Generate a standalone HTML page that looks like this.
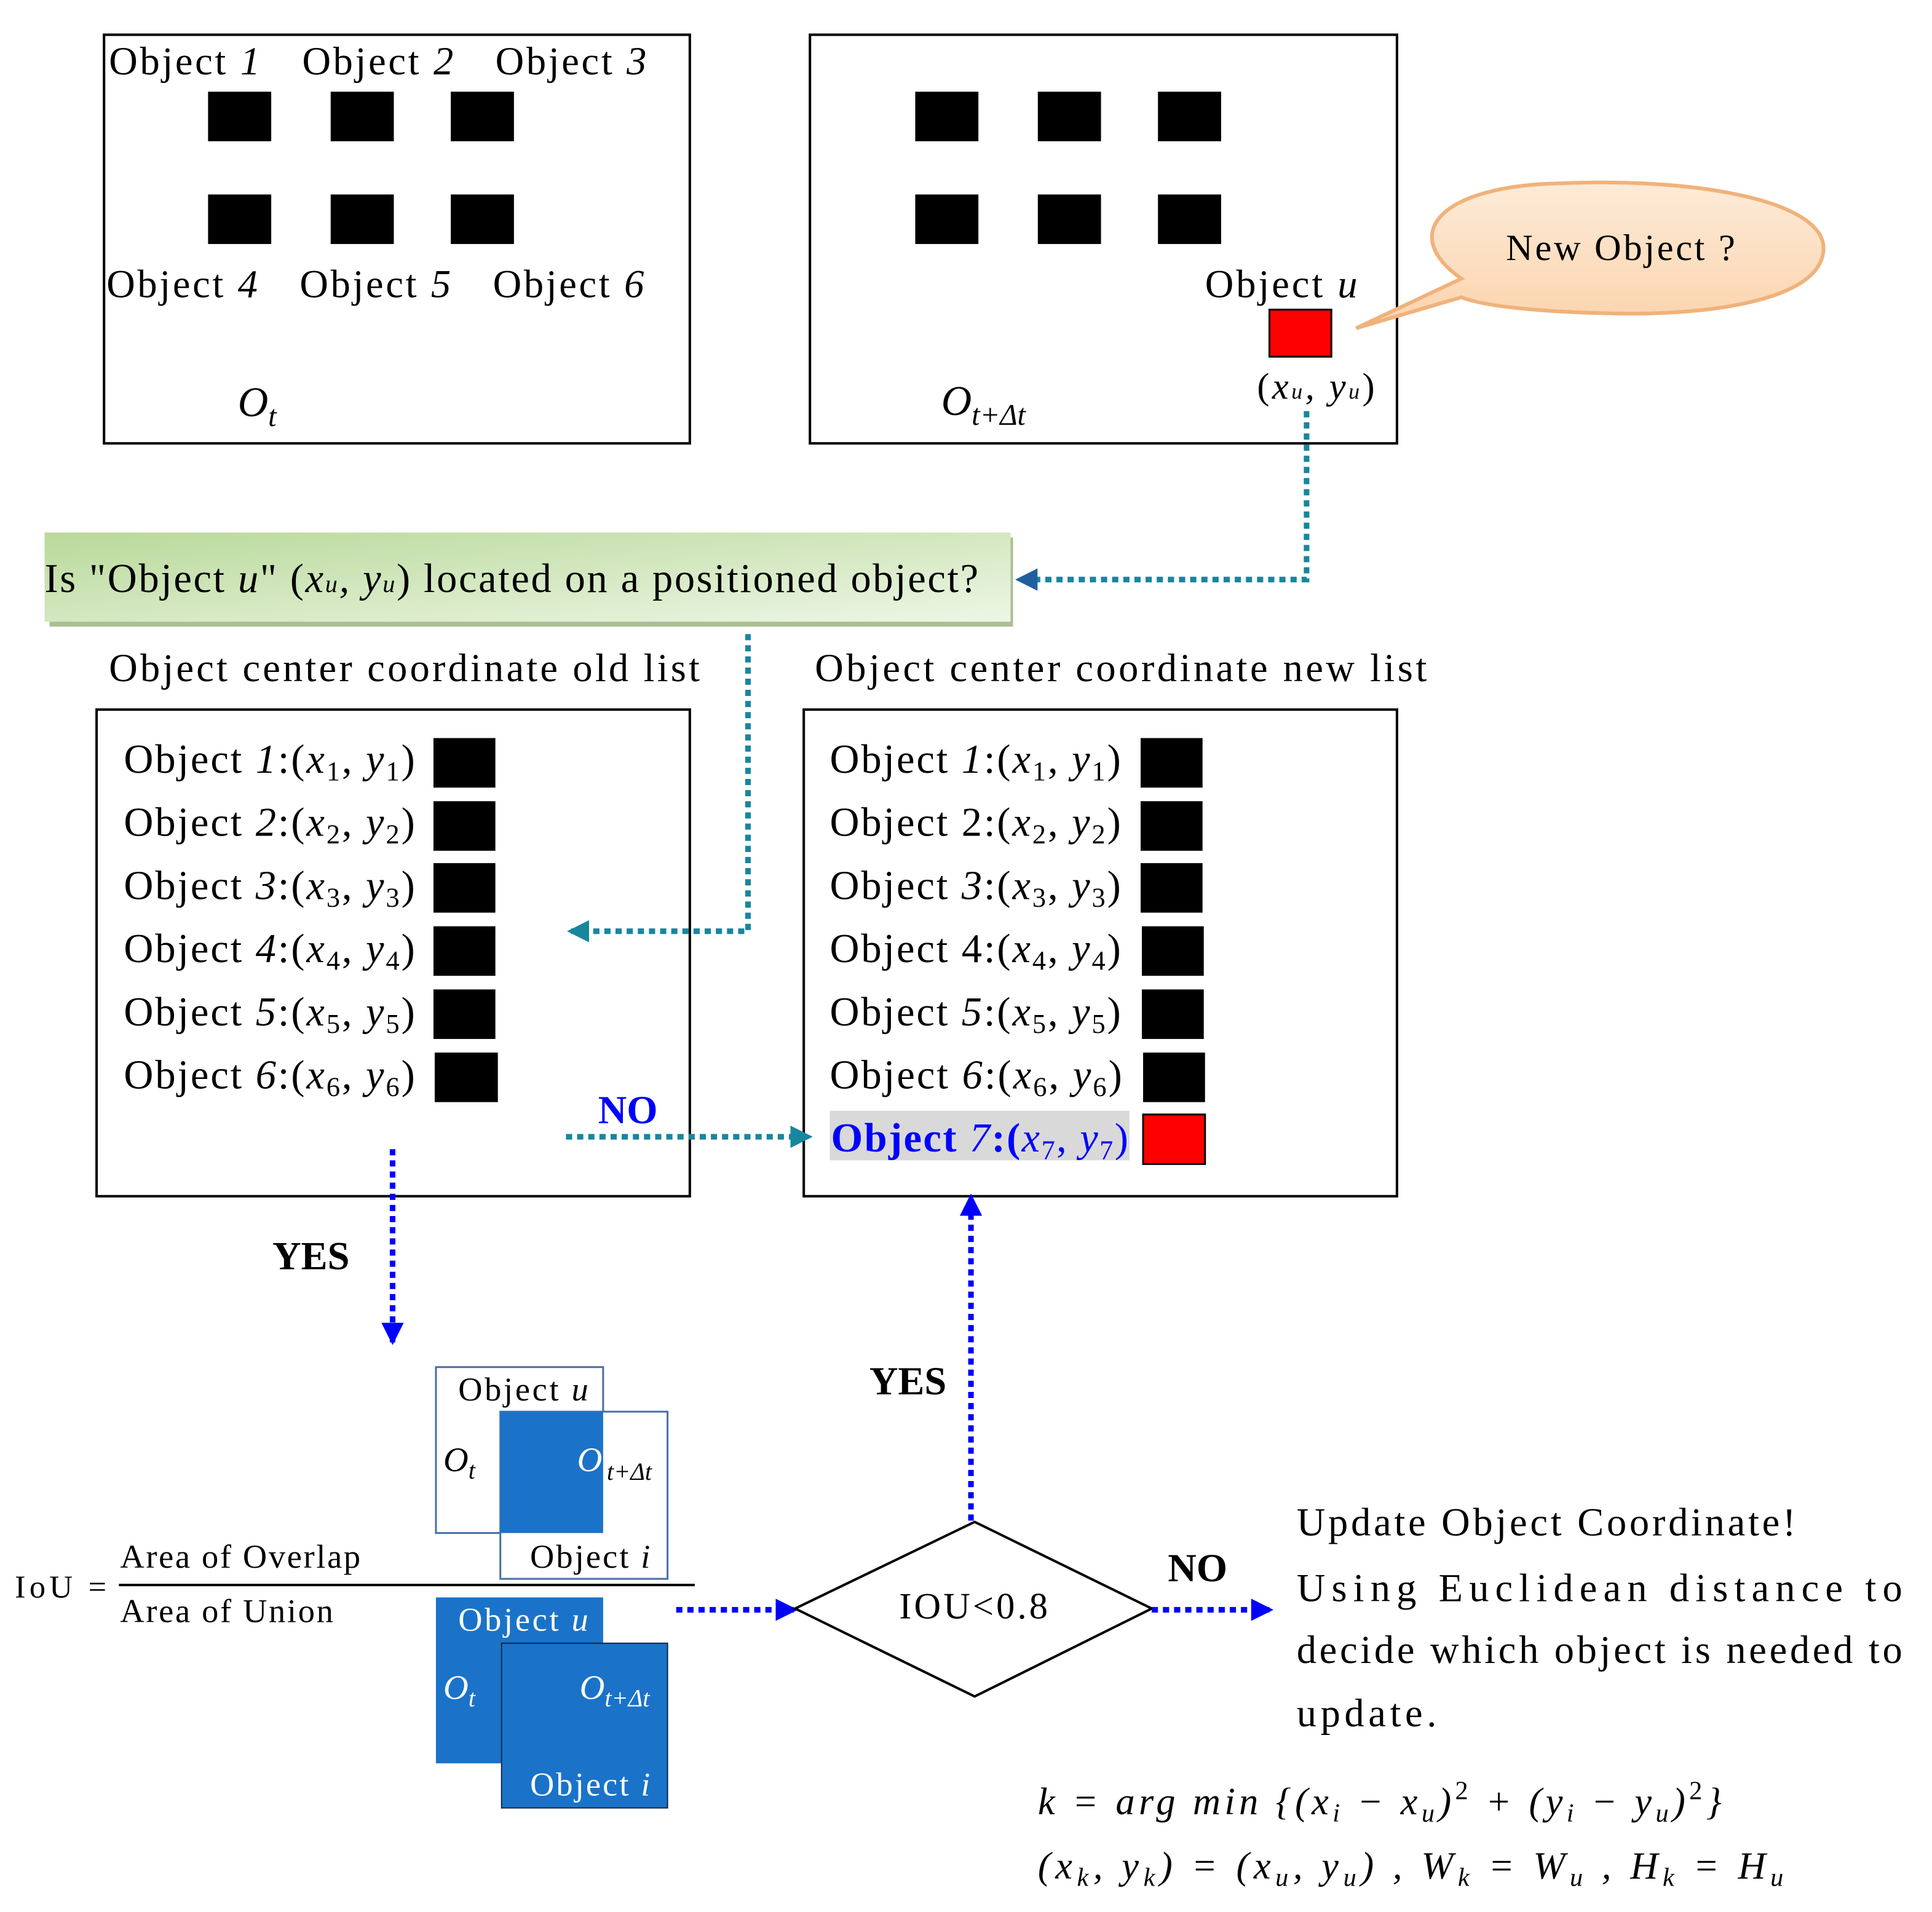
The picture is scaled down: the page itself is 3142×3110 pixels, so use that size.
<!DOCTYPE html>
<html><head><meta charset="utf-8"><style>
html,body{margin:0;padding:0;background:#fff;}
svg{display:block;}
text{font-family:"Liberation Serif",serif;fill:#000;}
.i{font-style:italic;}
</style></head><body>
<svg width="3142" height="3110" viewBox="0 0 1560 1544" xmlns="http://www.w3.org/2000/svg">
<defs>
<linearGradient id="g" x1="0" y1="0" x2="1" y2="1">
<stop offset="0" stop-color="#b9d99a"/><stop offset="1" stop-color="#eef6e6"/></linearGradient>
<linearGradient id="o" x1="0" y1="0" x2="0" y2="1">
<stop offset="0" stop-color="#fdebd8"/><stop offset="1" stop-color="#fbd3ad"/></linearGradient>
<marker id="at" markerWidth="4" markerHeight="4" refX="3.5" refY="2" orient="auto" markerUnits="strokeWidth"><path d="M0,0 L4,2 L0,4 z" fill="#17869e"/></marker>
<marker id="ab" markerWidth="4" markerHeight="4" refX="3.5" refY="2" orient="auto" markerUnits="strokeWidth"><path d="M0,0 L4,2 L0,4 z" fill="#0000ff"/></marker>
<marker id="an" markerWidth="4" markerHeight="4" refX="3.5" refY="2" orient="auto" markerUnits="strokeWidth"><path d="M0,0 L4,2 L0,4 z" fill="#1f5f9f"/></marker>
</defs>

<!-- Box 1 -->
<rect x="84" y="28" width="473" height="330" fill="#fff" stroke="#000" stroke-width="2"/>
<g font-size="32">
<text x="88" y="60" textLength="122">Object <tspan class="i">1</tspan></text>
<text x="244" y="60" textLength="122">Object <tspan class="i">2</tspan></text>
<text x="400" y="60" textLength="122">Object <tspan class="i">3</tspan></text>
<text x="86" y="240" textLength="122">Object <tspan class="i">4</tspan></text>
<text x="242" y="240" textLength="122">Object <tspan class="i">5</tspan></text>
<text x="398" y="240" textLength="122">Object <tspan class="i">6</tspan></text>
</g>
<g fill="#000">
<rect x="168" y="74" width="51" height="40"/><rect x="267" y="74" width="51" height="40"/><rect x="364" y="74" width="51" height="40"/>
<rect x="168" y="157" width="51" height="40"/><rect x="267" y="157" width="51" height="40"/><rect x="364" y="157" width="51" height="40"/>
</g>
<text x="192" y="336" font-size="34" class="i">O<tspan font-size="24" dy="8">t</tspan></text>

<!-- Box 2 -->
<rect x="654" y="28" width="474" height="330" fill="#fff" stroke="#000" stroke-width="2"/>
<g fill="#000">
<rect x="739" y="74" width="51" height="40"/><rect x="838" y="74" width="51" height="40"/><rect x="935" y="74" width="51" height="40"/>
<rect x="739" y="157" width="51" height="40"/><rect x="838" y="157" width="51" height="40"/><rect x="935" y="157" width="51" height="40"/>
</g>
<text x="973" y="240" font-size="32" textLength="123">Object <tspan class="i">u</tspan></text>
<rect x="1025" y="250" width="50" height="38" fill="#ff0000" stroke="#000" stroke-width="1.5"/>
<text x="1015" y="322" font-size="30" textLength="95">(<tspan class="i">x<tspan font-size="18">u</tspan>, y<tspan font-size="18">u</tspan></tspan>)</text>
<text x="760" y="335" font-size="34" class="i">O<tspan font-size="24" dy="8">t+Δt</tspan></text>

<!-- Bubble -->
<path d="M1180,225 C1130,190 1160,150 1260,148 C1380,143 1480,165 1472,205 C1465,245 1370,255 1300,253 C1250,252 1200,248 1180,240 L1095,265 Z" fill="url(#o)" stroke="#f0b27a" stroke-width="3"/>
<text x="1216" y="210" font-size="30" textLength="185">New Object ?</text>

<!-- teal connector to banner -->
<polyline points="1055,332 1055,468 822,468" fill="none" stroke="#17869e" stroke-width="4.5" stroke-dasharray="5,4" marker-end="url(#an)"/>

<!-- Green banner -->
<rect x="40" y="434" width="778" height="72" fill="#a9bf94"/>
<rect x="36" y="430" width="780" height="72" fill="url(#g)"/>
<text x="36" y="478" font-size="33" textLength="754">Is "Object <tspan class="i">u</tspan>" (<tspan class="i">x<tspan font-size="20">u</tspan>, y<tspan font-size="20">u</tspan></tspan>) located on a positioned object?</text>

<text x="88" y="550" font-size="32" textLength="477">Object center coordinate old list</text>
<text x="658" y="550" font-size="32" textLength="494">Object center coordinate new list</text>

<!-- Box 3 old list -->
<rect x="78" y="573" width="479" height="393" fill="#fff" stroke="#000" stroke-width="2"/>
<g font-size="33">
<text x="100" y="624" textLength="235">Object <tspan class="i">1</tspan>:(<tspan class="i">x</tspan><tspan font-size="22" dy="6">1</tspan><tspan dy="-6">, </tspan><tspan class="i">y</tspan><tspan font-size="22" dy="6">1</tspan><tspan dy="-6">)</tspan></text>
<text x="100" y="675" textLength="235">Object <tspan class="i">2</tspan>:(<tspan class="i">x</tspan><tspan font-size="22" dy="6">2</tspan><tspan dy="-6">, </tspan><tspan class="i">y</tspan><tspan font-size="22" dy="6">2</tspan><tspan dy="-6">)</tspan></text>
<text x="100" y="726" textLength="235">Object <tspan class="i">3</tspan>:(<tspan class="i">x</tspan><tspan font-size="22" dy="6">3</tspan><tspan dy="-6">, </tspan><tspan class="i">y</tspan><tspan font-size="22" dy="6">3</tspan><tspan dy="-6">)</tspan></text>
<text x="100" y="777" textLength="235">Object <tspan class="i">4</tspan>:(<tspan class="i">x</tspan><tspan font-size="22" dy="6">4</tspan><tspan dy="-6">, </tspan><tspan class="i">y</tspan><tspan font-size="22" dy="6">4</tspan><tspan dy="-6">)</tspan></text>
<text x="100" y="828" textLength="235">Object <tspan class="i">5</tspan>:(<tspan class="i">x</tspan><tspan font-size="22" dy="6">5</tspan><tspan dy="-6">, </tspan><tspan class="i">y</tspan><tspan font-size="22" dy="6">5</tspan><tspan dy="-6">)</tspan></text>
<text x="100" y="879" textLength="235">Object <tspan class="i">6</tspan>:(<tspan class="i">x</tspan><tspan font-size="22" dy="6">6</tspan><tspan dy="-6">, </tspan><tspan class="i">y</tspan><tspan font-size="22" dy="6">6</tspan><tspan dy="-6">)</tspan></text>
</g>
<g fill="#000">
<rect x="350" y="596" width="50" height="40"/><rect x="350" y="647" width="50" height="40"/><rect x="350" y="697" width="50" height="40"/>
<rect x="350" y="748" width="50" height="40"/><rect x="350" y="799" width="50" height="40"/><rect x="351" y="850" width="51" height="40"/>
</g>

<!-- Box 4 new list -->
<rect x="649" y="573" width="479" height="393" fill="#fff" stroke="#000" stroke-width="2"/>
<rect x="670" y="897" width="242" height="40" fill="#d9d9d9"/>
<g font-size="33">
<text x="670" y="624" textLength="235">Object <tspan class="i">1</tspan>:(<tspan class="i">x</tspan><tspan font-size="22" dy="6">1</tspan><tspan dy="-6">, </tspan><tspan class="i">y</tspan><tspan font-size="22" dy="6">1</tspan><tspan dy="-6">)</tspan></text>
<text x="670" y="675" textLength="235">Object 2:(<tspan class="i">x</tspan><tspan font-size="22" dy="6">2</tspan><tspan dy="-6">, </tspan><tspan class="i">y</tspan><tspan font-size="22" dy="6">2</tspan><tspan dy="-6">)</tspan></text>
<text x="670" y="726" textLength="235">Object <tspan class="i">3</tspan>:(<tspan class="i">x</tspan><tspan font-size="22" dy="6">3</tspan><tspan dy="-6">, </tspan><tspan class="i">y</tspan><tspan font-size="22" dy="6">3</tspan><tspan dy="-6">)</tspan></text>
<text x="670" y="777" textLength="235">Object 4:(<tspan class="i">x</tspan><tspan font-size="22" dy="6">4</tspan><tspan dy="-6">, </tspan><tspan class="i">y</tspan><tspan font-size="22" dy="6">4</tspan><tspan dy="-6">)</tspan></text>
<text x="670" y="828" textLength="235">Object <tspan class="i">5</tspan>:(<tspan class="i">x</tspan><tspan font-size="22" dy="6">5</tspan><tspan dy="-6">, </tspan><tspan class="i">y</tspan><tspan font-size="22" dy="6">5</tspan><tspan dy="-6">)</tspan></text>
<text x="670" y="879" textLength="236">Object <tspan class="i">6</tspan>:(<tspan class="i">x</tspan><tspan font-size="22" dy="6">6</tspan><tspan dy="-6">, </tspan><tspan class="i">y</tspan><tspan font-size="22" dy="6">6</tspan><tspan dy="-6">)</tspan></text>
<text x="671" y="930" textLength="240" style="fill:#0000ff" font-weight="bold">Object <tspan class="i" font-weight="normal" style="fill:#0000ff">7</tspan>:(<tspan class="i" font-weight="normal" style="fill:#0000ff">x</tspan><tspan font-size="22" dy="6" font-weight="normal" style="fill:#0000ff">7</tspan><tspan dy="-6" font-weight="normal" style="fill:#0000ff">, </tspan><tspan class="i" font-weight="normal" style="fill:#0000ff">y</tspan><tspan font-size="22" dy="6" font-weight="normal" style="fill:#0000ff">7</tspan><tspan dy="-6" font-weight="normal" style="fill:#0000ff">)</tspan></text>
</g>
<g fill="#000">
<rect x="921" y="596" width="50" height="40"/><rect x="921" y="647" width="50" height="40"/><rect x="921" y="697" width="50" height="40"/>
<rect x="922" y="748" width="50" height="40"/><rect x="922" y="799" width="50" height="40"/><rect x="923" y="850" width="50" height="40"/>
</g>
<rect x="923" y="900" width="50" height="40" fill="#ff0000" stroke="#000" stroke-width="1.5"/>

<!-- teal connectors -->
<polyline points="604,512 604,752 460,752" fill="none" stroke="#17869e" stroke-width="4.5" stroke-dasharray="5,4" marker-end="url(#at)"/>
<line x1="457" y1="918" x2="654" y2="918" stroke="#17869e" stroke-width="4.5" stroke-dasharray="5,4" marker-end="url(#at)"/>
<text x="483" y="907" font-size="32" font-weight="bold" style="fill:#0000ff">NO</text>

<!-- blue down YES -->
<line x1="317" y1="928" x2="317" y2="1084" stroke="#0000ff" stroke-width="4.5" stroke-dasharray="5,4" marker-end="url(#ab)"/>
<text x="220" y="1025" font-size="32" font-weight="bold">YES</text>

<!-- IoU diagram -->
<rect x="352" y="1104" width="135" height="134" fill="#fff" stroke="#4a6fa5" stroke-width="1.5"/>
<rect x="404" y="1140" width="135" height="135" fill="#fff" stroke="#4a6fa5" stroke-width="1.5"/>
<rect x="404" y="1140" width="83" height="98" fill="#1a73c8"/>
<text x="370" y="1131" font-size="27" textLength="105">Object <tspan class="i">u</tspan></text>
<text x="358" y="1188" font-size="28" class="i">O<tspan font-size="20" dy="6">t</tspan></text>
<text x="466" y="1188" font-size="28" class="i" style="fill:#fff">O</text>
<text x="490" y="1195" font-size="20" class="i">t+Δt</text>
<text x="428" y="1266" font-size="27" textLength="97">Object <tspan class="i">i</tspan></text>
<text x="12" y="1290" font-size="26" textLength="74">IoU =</text>
<text x="97" y="1266" font-size="27" textLength="194">Area of Overlap</text>
<text x="97" y="1310" font-size="27" textLength="172">Area of Union</text>
<line x1="96" y1="1280" x2="561" y2="1280" stroke="#000" stroke-width="2"/>
<rect x="352" y="1290" width="135" height="134" fill="#1a73c8"/>
<rect x="405" y="1327" width="134" height="133" fill="#1a73c8" stroke="#0d2a50" stroke-width="1"/>
<text x="370" y="1317" font-size="27" textLength="105" style="fill:#fff">Object <tspan class="i" style="fill:#fff">u</tspan></text>
<text x="358" y="1372" font-size="28" class="i" style="fill:#fff">O<tspan font-size="20" dy="6" style="fill:#fff">t</tspan></text>
<text x="468" y="1372" font-size="28" class="i" style="fill:#fff">O<tspan font-size="20" dy="6" style="fill:#fff">t+Δt</tspan></text>
<text x="428" y="1450" font-size="27" textLength="97" style="fill:#fff">Object <tspan class="i" style="fill:#fff">i</tspan></text>

<line x1="546" y1="1300" x2="642" y2="1300" stroke="#0000ff" stroke-width="4.5" stroke-dasharray="5,4" marker-end="url(#ab)"/>

<!-- Diamond -->
<polygon points="642,1299 787,1229 930,1299 787,1370" fill="#fff" stroke="#000" stroke-width="2"/>
<text x="786" y="1307" font-size="30" text-anchor="middle" textLength="120">IOU&lt;0.8</text>
<line x1="784" y1="1228" x2="784" y2="966" stroke="#0000ff" stroke-width="4.5" stroke-dasharray="5,4" marker-end="url(#ab)"/>
<text x="702" y="1126" font-size="32" font-weight="bold">YES</text>
<line x1="930" y1="1300" x2="1026" y2="1300" stroke="#0000ff" stroke-width="4.5" stroke-dasharray="5,4" marker-end="url(#ab)"/>
<text x="943" y="1277" font-size="32" font-weight="bold">NO</text>

<!-- Right text -->
<g font-size="32">
<text x="1047" y="1240" textLength="403">Update Object Coordinate!</text>
<text x="1047" y="1293" textLength="489" lengthAdjust="spacing">Using  Euclidean  distance  to</text>
<text x="1047" y="1343" textLength="489" lengthAdjust="spacing">decide which object is needed to</text>
<text x="1047" y="1394" textLength="113">update.</text>
</g>
<g font-size="31" class="i">
<text x="838" y="1465" textLength="552">k = arg min {(x<tspan font-size="21" dy="6">i</tspan><tspan dy="-6"> − x</tspan><tspan font-size="21" dy="6">u</tspan><tspan dy="-6">)</tspan><tspan font-size="21" dy="-12" font-style="normal">2</tspan><tspan dy="12"> + (y</tspan><tspan font-size="21" dy="6">i</tspan><tspan dy="-6"> − y</tspan><tspan font-size="21" dy="6">u</tspan><tspan dy="-6">)</tspan><tspan font-size="21" dy="-12" font-style="normal">2</tspan><tspan dy="12">}</tspan></text>
<text x="838" y="1517" textLength="602">(x<tspan font-size="21" dy="6">k</tspan><tspan dy="-6">, y</tspan><tspan font-size="21" dy="6">k</tspan><tspan dy="-6">) = (x</tspan><tspan font-size="21" dy="6">u</tspan><tspan dy="-6">, y</tspan><tspan font-size="21" dy="6">u</tspan><tspan dy="-6">)  ,  W</tspan><tspan font-size="21" dy="6">k</tspan><tspan dy="-6"> = W</tspan><tspan font-size="21" dy="6">u</tspan><tspan dy="-6">  ,  H</tspan><tspan font-size="21" dy="6">k</tspan><tspan dy="-6"> = H</tspan><tspan font-size="21" dy="6">u</tspan></text>
</g>
</svg>
</body></html>
